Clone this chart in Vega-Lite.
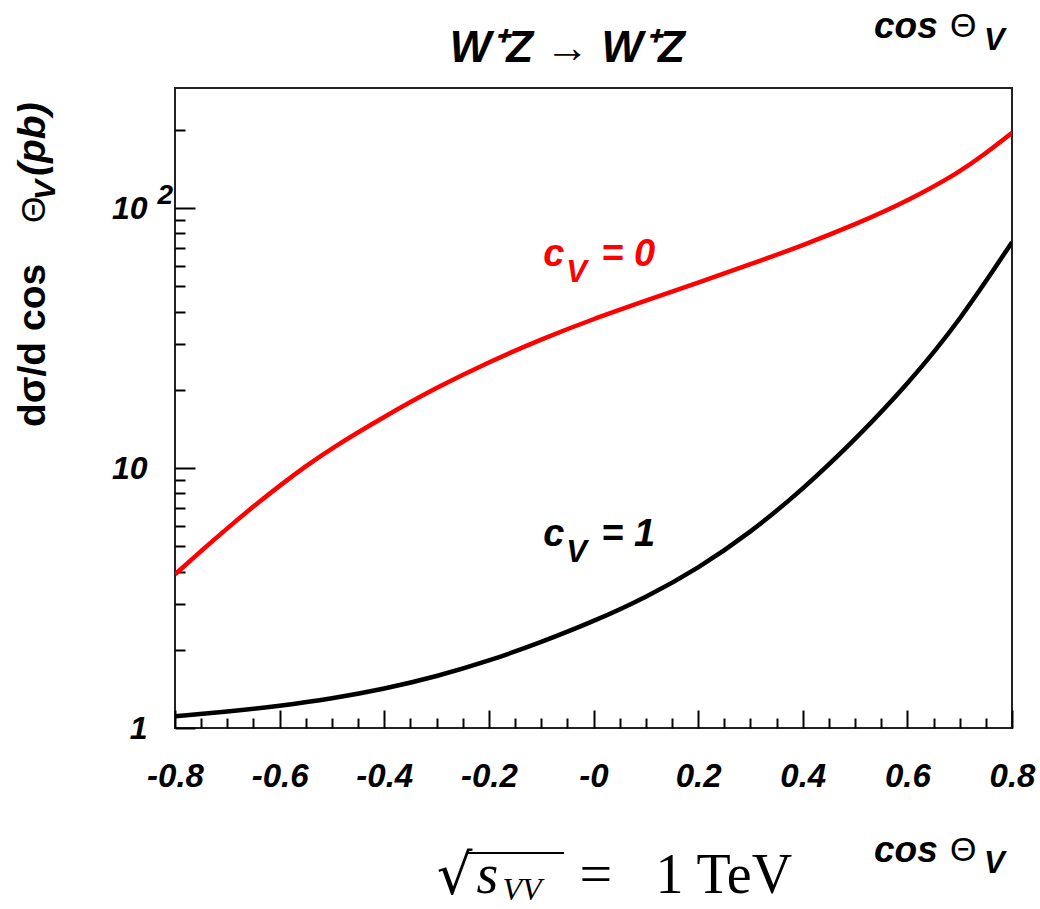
{
  "$schema": "https://vega.github.io/schema/vega-lite/v6.json",
  "width": 837,
  "height": 640,
  "autosize": "none",
  "padding": {"left": 175, "top": 88, "right": 28, "bottom": 181},
  "background": "white",
  "config": {
    "view": {"stroke": "#222222", "strokeWidth": 2},
    "axis": {"grid": false, "domain": false, "tickColor": "#000000", "tickWidth": 2, "labelFont": "Liberation Sans", "labelFontWeight": "bold", "labelFontStyle": "italic", "labelColor": "#000000", "labelOverlap": false, "labelFlush": false, "title": null}
  },
  "resolve": {"axis": {"x": "independent", "y": "independent"}},
  "datasets": {
    "curves": [
      {"cos": -0.8, "sigma": 3.9, "cV": "0"},
      {"cos": -0.75, "sigma": 4.8, "cV": "0"},
      {"cos": -0.7, "sigma": 5.87, "cV": "0"},
      {"cos": -0.65, "sigma": 7.12, "cV": "0"},
      {"cos": -0.6, "sigma": 8.56, "cV": "0"},
      {"cos": -0.55, "sigma": 10.17, "cV": "0"},
      {"cos": -0.5, "sigma": 11.95, "cV": "0"},
      {"cos": -0.4, "sigma": 15.78, "cV": "0"},
      {"cos": -0.3, "sigma": 20.42, "cV": "0"},
      {"cos": -0.2, "sigma": 25.59, "cV": "0"},
      {"cos": -0.1, "sigma": 31.33, "cV": "0"},
      {"cos": 0.0, "sigma": 37.5, "cV": "0"},
      {"cos": 0.1, "sigma": 44.06, "cV": "0"},
      {"cos": 0.2, "sigma": 51.76, "cV": "0"},
      {"cos": 0.3, "sigma": 60.81, "cV": "0"},
      {"cos": 0.4, "sigma": 71.94, "cV": "0"},
      {"cos": 0.5, "sigma": 86.5, "cV": "0"},
      {"cos": 0.6, "sigma": 106.4, "cV": "0"},
      {"cos": 0.7, "sigma": 137.7, "cV": "0"},
      {"cos": 0.75, "sigma": 162.5, "cV": "0"},
      {"cos": 0.8, "sigma": 195, "cV": "0"},
      {"cos": -0.8, "sigma": 1.109, "cV": "1"},
      {"cos": -0.7, "sigma": 1.156, "cV": "1"},
      {"cos": -0.6, "sigma": 1.216, "cV": "1"},
      {"cos": -0.5, "sigma": 1.297, "cV": "1"},
      {"cos": -0.4, "sigma": 1.413, "cV": "1"},
      {"cos": -0.3, "sigma": 1.578, "cV": "1"},
      {"cos": -0.2, "sigma": 1.811, "cV": "1"},
      {"cos": -0.1, "sigma": 2.138, "cV": "1"},
      {"cos": 0.0, "sigma": 2.57, "cV": "1"},
      {"cos": 0.1, "sigma": 3.177, "cV": "1"},
      {"cos": 0.2, "sigma": 4.111, "cV": "1"},
      {"cos": 0.3, "sigma": 5.649, "cV": "1"},
      {"cos": 0.4, "sigma": 8.279, "cV": "1"},
      {"cos": 0.5, "sigma": 12.85, "cV": "1"},
      {"cos": 0.6, "sigma": 20.94, "cV": "1"},
      {"cos": 0.7, "sigma": 36.81, "cV": "1"},
      {"cos": 0.8, "sigma": 73.96, "cV": "1"}
    ]
  },
  "layer": [
    {
      "data": {"name": "curves"},
      "mark": {"type": "line", "strokeWidth": 4.5, "interpolate": "basis", "clip": true},
      "encoding": {
        "x": {
          "field": "cos", "type": "quantitative",
          "scale": {"domain": [-0.8, 0.8], "nice": false, "zero": false},
          "axis": {
            "orient": "bottom",
            "title": null,
            "values": [-0.8, -0.6, -0.4, -0.2, 0, 0.2, 0.4, 0.6, 0.8],
            "tickSize": -18,
            "labelExpr": "datum.value == 0 ? '-0' : (datum.value < 0 ? '-' + format(-datum.value, '.1f') : format(datum.value, '.1f'))",
            "labelFontSize": 33,
            "labelPadding": 50
          }
        },
        "y": {
          "field": "sigma", "type": "quantitative",
          "scale": {"type": "log", "domain": [1, 290], "nice": false},
          "axis": {
            "orient": "left",
            "title": null,
            "values": [1, 10, 100],
            "tickSize": -20,
            "labelExpr": "datum.value == 1 ? '1' : '10'",
            "labelFontSize": 32,
            "labelPadding": 48
          }
        },
        "color": {"field": "cV", "type": "nominal", "scale": {"domain": ["0", "1"], "range": ["#ff0000", "#000000"]}, "legend": null}
      }
    },
    {
      "data": {"values": [{}]},
      "mark": {"type": "text", "text": "2", "font": "Liberation Sans", "fontSize": 28, "fontWeight": "bold", "fontStyle": "italic", "align": "right", "baseline": "alphabetic", "dx": -2, "dy": -4},
      "encoding": {
        "x": {"datum": -0.8, "type": "quantitative", "axis": {"orient": "bottom", "title": null, "values": [-0.75,-0.7,-0.65,-0.55,-0.5,-0.45,-0.35,-0.3,-0.25,-0.15,-0.1,-0.05,0.05,0.1,0.15,0.25,0.3,0.35,0.45,0.5,0.55,0.65,0.7,0.75], "tickSize": -10, "labels": false}},
        "y": {"datum": 100, "type": "quantitative", "axis": {"orient": "left", "title": null, "values": [2,3,4,5,6,7,8,9,20,30,40,50,60,70,80,90,200], "tickSize": -10, "labels": false}}
      }
    },
    {
      "data": {"values": [{}]},
      "mark": {"type": "text", "text": "W⁺Z → W⁺Z", "font": "Liberation Sans", "fontSize": 44, "fontWeight": "bold", "fontStyle": "italic", "align": "center", "baseline": "alphabetic", "dy": -26},
      "encoding": {"x": {"datum": -0.05, "type": "quantitative", "axis": null}, "y": {"datum": 290, "type": "quantitative", "axis": null}}
    },
    {
      "data": {"values": [{}]},
      "mark": {"type": "text", "text": "cos", "font": "Liberation Sans", "fontSize": 37, "fontWeight": "bold", "fontStyle": "italic", "align": "left", "baseline": "alphabetic", "dx": -138, "dy": -50},
      "encoding": {"x": {"datum": 0.8, "type": "quantitative", "axis": null}, "y": {"datum": 290, "type": "quantitative", "axis": null}}
    },
    {
      "data": {"values": [{}]},
      "mark": {"type": "text", "text": "Θ", "font": "Liberation Sans", "fontSize": 34, "align": "left", "baseline": "alphabetic", "dx": -62, "dy": -51},
      "encoding": {"x": {"datum": 0.8, "type": "quantitative", "axis": null}, "y": {"datum": 290, "type": "quantitative", "axis": null}}
    },
    {
      "data": {"values": [{}]},
      "mark": {"type": "text", "text": "V", "font": "Liberation Sans", "fontSize": 31, "fontWeight": "bold", "fontStyle": "italic", "align": "left", "baseline": "alphabetic", "dx": -28, "dy": -38},
      "encoding": {"x": {"datum": 0.8, "type": "quantitative", "axis": null}, "y": {"datum": 290, "type": "quantitative", "axis": null}}
    },
    {
      "data": {"values": [{}]},
      "mark": {"type": "text", "text": "cos", "font": "Liberation Sans", "fontSize": 37, "fontWeight": "bold", "fontStyle": "italic", "align": "left", "baseline": "alphabetic", "dx": -138, "dy": 134},
      "encoding": {"x": {"datum": 0.8, "type": "quantitative", "axis": null}, "y": {"datum": 1, "type": "quantitative", "axis": null}}
    },
    {
      "data": {"values": [{}]},
      "mark": {"type": "text", "text": "Θ", "font": "Liberation Sans", "fontSize": 34, "align": "left", "baseline": "alphabetic", "dx": -62, "dy": 133},
      "encoding": {"x": {"datum": 0.8, "type": "quantitative", "axis": null}, "y": {"datum": 1, "type": "quantitative", "axis": null}}
    },
    {
      "data": {"values": [{}]},
      "mark": {"type": "text", "text": "V", "font": "Liberation Sans", "fontSize": 31, "fontWeight": "bold", "fontStyle": "italic", "align": "left", "baseline": "alphabetic", "dx": -28, "dy": 145},
      "encoding": {"x": {"datum": 0.8, "type": "quantitative", "axis": null}, "y": {"datum": 1, "type": "quantitative", "axis": null}}
    },
    {
      "data": {"values": [{}]},
      "mark": {"type": "text", "text": "dσ/d cos", "font": "Liberation Sans", "fontSize": 39, "fontWeight": "bold", "angle": 270, "align": "left", "baseline": "alphabetic", "dx": 301, "dy": -130},
      "encoding": {"x": {"datum": -0.8, "type": "quantitative", "axis": null}, "y": {"datum": 1, "type": "quantitative", "axis": null}}
    },
    {
      "data": {"values": [{}]},
      "mark": {"type": "text", "text": "Θ", "font": "Liberation Sans", "fontSize": 34, "angle": 270, "align": "left", "baseline": "alphabetic", "dx": 505, "dy": -130},
      "encoding": {"x": {"datum": -0.8, "type": "quantitative", "axis": null}, "y": {"datum": 1, "type": "quantitative", "axis": null}}
    },
    {
      "data": {"values": [{}]},
      "mark": {"type": "text", "text": "V", "font": "Liberation Sans", "fontSize": 30, "fontWeight": "bold", "fontStyle": "italic", "angle": 270, "align": "left", "baseline": "alphabetic", "dx": 528, "dy": -120},
      "encoding": {"x": {"datum": -0.8, "type": "quantitative", "axis": null}, "y": {"datum": 1, "type": "quantitative", "axis": null}}
    },
    {
      "data": {"values": [{}]},
      "mark": {"type": "text", "text": "(pb)", "font": "Liberation Sans", "fontSize": 39, "fontWeight": "bold", "fontStyle": "italic", "angle": 270, "align": "left", "baseline": "alphabetic", "dx": 552, "dy": -130},
      "encoding": {"x": {"datum": -0.8, "type": "quantitative", "axis": null}, "y": {"datum": 1, "type": "quantitative", "axis": null}}
    },
    {
      "data": {"values": [{}]},
      "mark": {"type": "text", "text": "c", "color": "#ff0000", "font": "Liberation Sans", "fontSize": 38, "fontWeight": "bold", "fontStyle": "italic", "align": "left", "baseline": "alphabetic", "dx": 2},
      "encoding": {"x": {"datum": -0.1, "type": "quantitative", "axis": null}, "y": {"datum": 60, "type": "quantitative", "axis": null}}
    },
    {
      "data": {"values": [{}]},
      "mark": {"type": "text", "text": "V", "color": "#ff0000", "font": "Liberation Sans", "fontSize": 31, "fontWeight": "bold", "fontStyle": "italic", "align": "left", "baseline": "alphabetic", "dx": 25, "dy": 16},
      "encoding": {"x": {"datum": -0.1, "type": "quantitative", "axis": null}, "y": {"datum": 60, "type": "quantitative", "axis": null}}
    },
    {
      "data": {"values": [{}]},
      "mark": {"type": "text", "text": "= 0", "color": "#ff0000", "font": "Liberation Sans", "fontSize": 38, "fontWeight": "bold", "fontStyle": "italic", "align": "left", "baseline": "alphabetic", "dx": 60},
      "encoding": {"x": {"datum": -0.1, "type": "quantitative", "axis": null}, "y": {"datum": 60, "type": "quantitative", "axis": null}}
    },
    {
      "data": {"values": [{}]},
      "mark": {"type": "text", "text": "c", "color": "#000000", "font": "Liberation Sans", "fontSize": 38, "fontWeight": "bold", "fontStyle": "italic", "align": "left", "baseline": "alphabetic", "dx": 2},
      "encoding": {"x": {"datum": -0.1, "type": "quantitative", "axis": null}, "y": {"datum": 5, "type": "quantitative", "axis": null}}
    },
    {
      "data": {"values": [{}]},
      "mark": {"type": "text", "text": "V", "color": "#000000", "font": "Liberation Sans", "fontSize": 31, "fontWeight": "bold", "fontStyle": "italic", "align": "left", "baseline": "alphabetic", "dx": 25, "dy": 16},
      "encoding": {"x": {"datum": -0.1, "type": "quantitative", "axis": null}, "y": {"datum": 5, "type": "quantitative", "axis": null}}
    },
    {
      "data": {"values": [{}]},
      "mark": {"type": "text", "text": "= 1", "color": "#000000", "font": "Liberation Sans", "fontSize": 38, "fontWeight": "bold", "fontStyle": "italic", "align": "left", "baseline": "alphabetic", "dx": 60},
      "encoding": {"x": {"datum": -0.1, "type": "quantitative", "axis": null}, "y": {"datum": 5, "type": "quantitative", "axis": null}}
    },
    {
      "data": {"values": [{}]},
      "mark": {"type": "text", "text": "√", "font": "DejaVu Sans", "fontSize": 56, "align": "right", "baseline": "alphabetic", "dx": -121, "dy": 166},
      "encoding": {"x": {"datum": 0, "type": "quantitative", "axis": null}, "y": {"datum": 1, "type": "quantitative", "axis": null}}
    },
    {
      "data": {"values": [{}]},
      "mark": {"type": "rule", "strokeWidth": 2, "color": "#000000", "yOffset": 125},
      "encoding": {"x": {"datum": -0.2418, "type": "quantitative", "axis": null}, "x2": {"datum": -0.0564}, "y": {"datum": 1, "type": "quantitative", "axis": null}}
    },
    {
      "data": {"values": [{}]},
      "mark": {"type": "text", "text": "s", "font": "Liberation Serif", "fontSize": 56, "fontStyle": "italic", "align": "left", "baseline": "alphabetic", "dx": -117, "dy": 165},
      "encoding": {"x": {"datum": 0, "type": "quantitative", "axis": null}, "y": {"datum": 1, "type": "quantitative", "axis": null}}
    },
    {
      "data": {"values": [{}]},
      "mark": {"type": "text", "text": "VV", "font": "Liberation Serif", "fontSize": 32, "fontStyle": "italic", "align": "left", "baseline": "alphabetic", "dx": -91, "dy": 172},
      "encoding": {"x": {"datum": 0, "type": "quantitative", "axis": null}, "y": {"datum": 1, "type": "quantitative", "axis": null}}
    },
    {
      "data": {"values": [{}]},
      "mark": {"type": "text", "text": "=", "font": "Liberation Serif", "fontSize": 58, "align": "left", "baseline": "alphabetic", "dx": -14, "dy": 165},
      "encoding": {"x": {"datum": 0, "type": "quantitative", "axis": null}, "y": {"datum": 1, "type": "quantitative", "axis": null}}
    },
    {
      "data": {"values": [{}]},
      "mark": {"type": "text", "text": "1 TeV", "font": "Liberation Serif", "fontSize": 56, "align": "left", "baseline": "alphabetic", "dx": 62, "dy": 165},
      "encoding": {"x": {"datum": 0, "type": "quantitative", "axis": null}, "y": {"datum": 1, "type": "quantitative", "axis": null}}
    }
  ]
}
